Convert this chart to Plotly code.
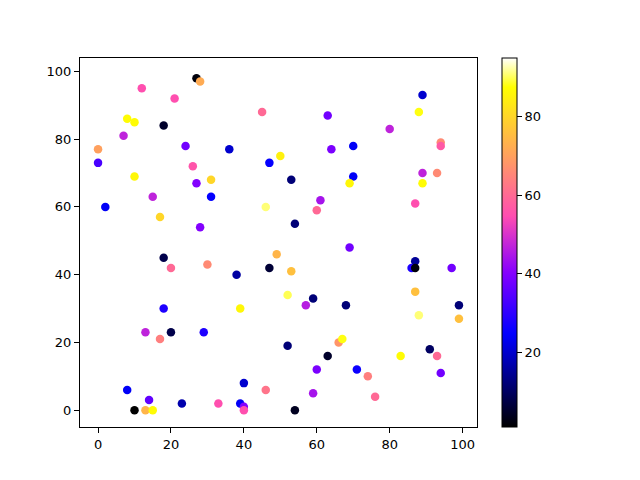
import plotly.graph_objects as go

# point positions
xs = [27, 28, 12, 21, 8, 10, 18, 7, 0, 24, 0, 26, 10, 31, 27, 31, 15, 2, 17, 28,
      45, 63, 36, 50, 47, 70, 53, 46, 61, 60, 54, 69, 64, 70, 69, 89, 88, 80, 94, 94,
      89, 93, 89, 87, 18, 20, 30, 18, 13, 20, 17, 29, 8, 14, 23, 10, 13, 15, 33, 49,
      47, 53, 38, 52, 59, 57, 68, 39, 52, 63, 60, 66, 67, 40, 46, 59, 39, 40, 40, 54,
      87, 86, 87, 97, 87, 99, 88, 99, 91, 83, 93, 71, 74, 94, 76]
ys = [98, 97, 95, 92, 86, 85, 84, 81, 77, 78, 73, 72, 69, 68, 67, 63, 63, 60, 57, 54,
      88, 87, 77, 75, 73, 78, 68, 60, 62, 59, 55, 48, 77, 69, 67, 93, 88, 83, 79, 78,
      70, 70, 67, 61, 45, 42, 43, 30, 23, 23, 21, 23, 6, 3, 2, 0, 0, 0, 2, 46,
      42, 41, 40, 34, 33, 31, 31, 30, 19, 16, 12, 20, 21, 8, 6, 5, 2, 1, 0, 0,
      44, 42, 42, 42, 35, 31, 28, 27, 18, 16, 16, 12, 10, 11, 4]
# colour values
cs = [2, 72, 55, 55, 87, 87, 5, 47, 70, 38, 33, 56, 86, 80, 40, 25, 47, 24, 80, 40,
      60, 38, 20, 85, 25, 24, 12, 91, 44, 60, 12, 38, 39, 24, 86, 20, 88, 47, 66, 57,
      47, 66, 87, 55, 8, 60, 66, 28, 47, 8, 64, 28, 24, 36, 17, 1, 74, 87, 55, 74,
      6, 76, 16, 90, 12, 46, 12, 86, 12, 5, 39, 68, 88, 20, 62, 44, 24, 40, 55, 4,
      15, 28, 2, 38, 76, 12, 91, 76, 10, 87, 60, 26, 64, 38, 60]


def clip(v):
    return max(0.0, min(1.0, v))


def gnuplot2(t):
    r = clip(t / 0.32 - 0.78125)
    g = clip(2 * t - 0.84)
    if t < 0.25:
        b = 4 * t
    elif t < 0.42:
        b = 1.0
    elif t < 0.92:
        b = -2 * t + 1.84
    else:
        b = t / 0.08 - 11.5
    b = clip(b)
    return "rgb(%d,%d,%d)" % (r * 255, g * 255, b * 255)


n = 64
scale = [[i / (n - 1), gnuplot2(i / (n - 1))] for i in range(n)]

fig = go.Figure(go.Scatter(
    x=xs, y=ys, mode="markers",
    marker=dict(size=8.5, color=cs, colorscale=scale, cmin=1, cmax=95,
                line=dict(width=0),
                colorbar=dict(x=1.063, xanchor="left", xpad=0,
                              y=0.5, yanchor="middle", ypad=0,
                              len=1, lenmode="fraction", thickness=15,
                              outlinewidth=1, outlinecolor="black",
                              tickvals=[20, 40, 60, 80], ticks="outside",
                              ticklen=5, tickcolor="black",
                              tickfont=dict(size=13, color="black"))),
))

axis = dict(showline=True, mirror=True, linecolor="black", linewidth=1,
            showgrid=False, zeroline=False, ticks="outside", ticklen=5,
            tickcolor="black", tickfont=dict(size=13, color="black"))

fig.update_xaxes(range=[-4.95, 103.95], tickvals=[0, 20, 40, 60, 80, 100], **axis)
fig.update_yaxes(range=[-4.95, 103.95], tickvals=[0, 20, 40, 60, 80, 100], **axis)

# page body adds 8px, so margins are shifted by that amount
fig.update_layout(
    width=640, height=480,
    margin=dict(l=72, r=171, t=50, b=61),
    plot_bgcolor="white", paper_bgcolor="white",
    font=dict(family="DejaVu Sans"),
    showlegend=False,
)

fig.write_html("out.html")
